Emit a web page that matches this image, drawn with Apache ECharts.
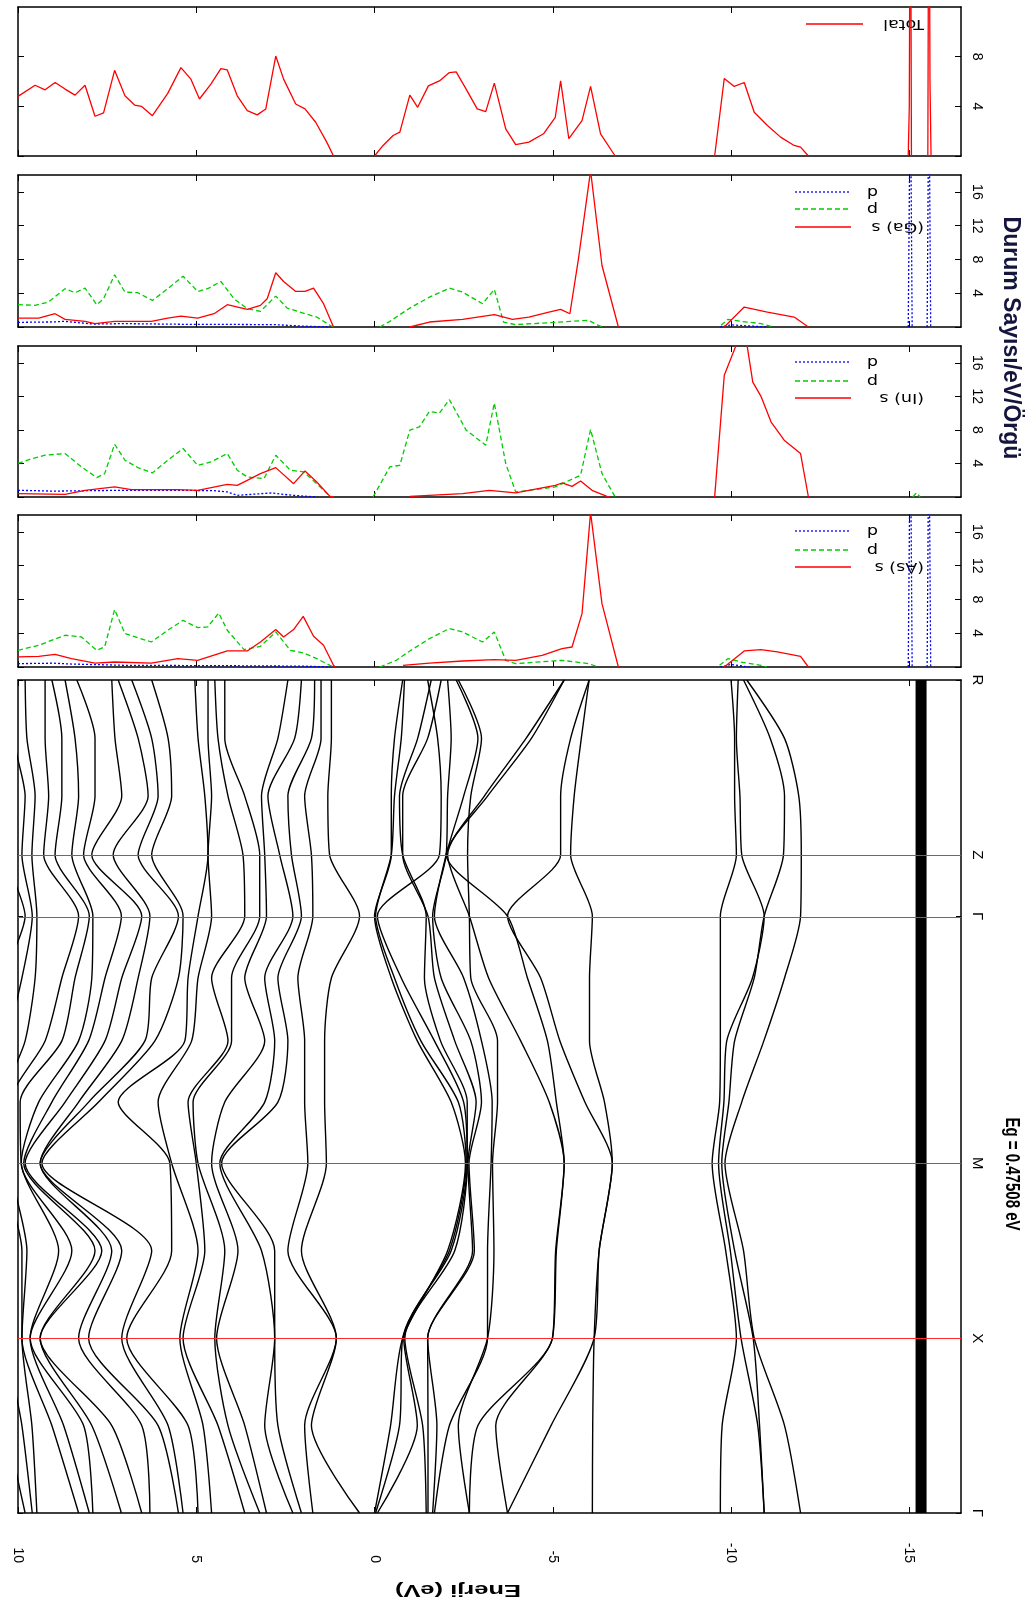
<!DOCTYPE html>
<html>
<head>
<meta charset="utf-8">
<title>Bant yapısı ve durum yoğunluğu</title>
<script src="https://cdn.jsdelivr.net/npm/echarts@6/dist/echarts.min.js"></script>
<style>
html, body { margin: 0; padding: 0; background: #fff; }
#chart { width: 1035px; height: 1609px; }
</style>
</head>
<body>
<div id="chart"></div>
<script>
// k path: Γ - X - M - Γ - Z - R (path length units, Γ-X = 1)
var kSamples = [0, 0.5, 1, 1.5, 2, 2.35, 2.7, 3.06, 3.414, 3.764, 4.1, 4.43, 4.764];
var kTicks = [0, 1, 2, 3.414, 3.764, 4.764];
var kNames = ['Γ', 'X', 'M', 'Γ', 'Z', 'R'];
var energyTicks = [-15, -10, -5, 0, 5, 10];

// conduction bands: energies (eV) read at each k sample, lowest first
var cbRows = [
    [0.42, 1.73, 2.05, 2.29, 3.03, 3.22, 3.64, 4.57, 4.95, 5.37, 5.50, 6.30, 6.53, 7.10, 7.90, 8.00, 8.30, 9.47, 9.60, 9.80],
    [1.77, 1.96, 2.71, 3.08, 3.64, 4.11, 4.39, 4.81, 5.23, 5.79, 6.07, 6.53, 7.37, 7.93, 8.16, 8.72, 9.05, 9.61, 9.89, 10.30],
    [1.07, 1.07, 2.80, 2.80, 4.43, 4.48, 5.37, 5.46, 6.95, 7.09, 8.02, 8.30, 9.38, 9.38, 9.66, 9.66, 9.89, 9.89, 10.30, 10.50],
    [2.05, 2.43, 2.80, 3.17, 3.83, 4.20, 4.76, 4.95, 5.69, 6.25, 7.09, 7.37, 7.65, 7.84, 8.49, 8.86, 9.75, 9.89, 10.20, 10.50],
    [1.35, 1.87, 4.29, 4.34, 4.57, 4.95, 5.00, 5.69, 5.74, 9.33, 9.38, 9.38, 9.80, 9.84, 9.91, 9.91, 10.20, 10.40, 10.60, 10.80],
    [1.40, 1.96, 2.71, 3.08, 4.20, 5.09, 5.23, 6.07, 7.19, 7.74, 8.02, 8.30, 8.68, 9.05, 9.42, 9.94, 10.20, 10.40, 10.60, 10.90],
    [1.40, 1.96, 2.43, 2.80, 3.08, 4.01, 4.11, 5.13, 5.32, 6.16, 6.44, 7.09, 7.56, 8.02, 8.30, 8.77, 9.24, 9.80, 10.30, 10.60],
    [1.21, 2.15, 2.71, 3.08, 3.64, 4.01, 4.57, 4.95, 5.23, 5.50, 6.25, 6.63, 7.09, 7.56, 7.93, 8.40, 8.77, 9.52, 9.89, 10.40],
    [0.42, 1.73, 2.05, 2.29, 3.03, 3.22, 3.64, 4.57, 4.95, 5.37, 5.50, 6.30, 6.53, 7.10, 7.90, 8.00, 8.30, 9.47, 9.60, 9.80],
    [1.26, 1.77, 2.33, 2.66, 3.08, 3.22, 3.69, 4.67, 4.67, 6.25, 6.63, 7.33, 7.93, 8.16, 8.49, 8.96, 9.28, 9.61, 9.89, 10.30],
    [1.31, 1.96, 2.43, 2.99, 3.17, 3.64, 4.11, 4.57, 4.76, 5.69, 6.07, 6.35, 7.09, 7.84, 8.30, 8.77, 9.14, 9.52, 9.80, 10.30],
    [1.21, 1.50, 1.77, 2.24, 2.71, 4.20, 4.39, 4.67, 4.95, 5.79, 6.25, 6.63, 7.28, 7.84, 8.40, 8.77, 9.24, 9.75, 10.10, 10.40],
    [1.21, 1.50, 1.68, 2.05, 2.43, 4.20, 4.48, 4.67, 5.04, 6.25, 6.81, 7.19, 7.37, 8.35, 8.68, 9.05, 9.24, 9.80, 10.10, 10.40]
];

// valence p bands, one array per band (values at kSamples)
var vb1 = [0, -0.45, -0.79, -2.05, -2.55, -2.15, -1.2, -0.47, 0, -0.47, -0.47, -0.56, -0.79];
var vb2 = [-0.03, -0.7, -0.79, -2.1, -2.57, -2.35, -1.3, -0.56, -0.03, -0.47, -0.56, -0.75, -0.84];
var vb3 = [-0.08, -1.2, -0.82, -2.15, -2.6, -2.5, -1.68, -0.75, -0.08, -1.82, -1.87, -1.77, -1.49];
var vb4 = [-1.45, -1.35, -0.85, -2.25, -2.6, -2.6, -1.85, -1.4, -1.45, -0.79, -0.7, -1.21, -1.59];
var vb5 = [-1.5, -1.5, -1.49, -2.75, -2.62, -2.85, -2.25, -1.68, -1.5, -0.79, -0.79, -1.49, -1.87];
var vb6 = [-1.63, -1.75, -1.49, -2.8, -2.65, -3.0, -2.7, -1.87, -1.63, -2.01, -2.05, -2.15, -2.05];
var vb7 = [-1.68, -2.1, -3.17, -3.17, -3.27, -3.3, -3.0, -2.5, -1.68, -2.01, -2.5, -2.9, -2.29];
var vb8 = [-2.66, -2.35, -3.17, -3.35, -3.31, -3.45, -3.45, -2.7, -2.66, -2.61, -2.7, -3.0, -2.35];
var vb9 = [-2.66, -2.9, -4.99, -5.08, -5.32, -4.9, -4.1, -3.2, -2.66, -2.05, -3.08, -4.25, -5.32];
var vb10 = [-3.73, -3.4, -4.99, -5.1, -5.32, -5.1, -4.85, -4.29, -3.73, -2.01, -3.17, -4.4, -5.32];
var vb11 = [-3.73, -4.95, -6.16, -6.3, -6.67, -5.9, -5.2, -4.66, -3.73, -5.22, -5.22, -5.5, -6.02];
var vb12 = [-6.11, -6.12, -6.16, -6.3, -6.67, -6.45, -6.03, -6.03, -6.11, -5.5, -5.6, -5.8, -6.02];

// low lying s bands
var sb1 = [-9.7, -9.75, -10.15, -9.85, -9.47, -9.68, -9.7, -9.7, -9.7, -10.15, -10.1, -10.1, -10.0];
var sb2 = [-10.93, -10.75, -10.28, -9.98, -9.65, -9.8, -9.88, -10.6, -10.93, -10.3, -10.25, -10.15, -10.2];
var sb3 = [-10.93, -10.8, -10.62, -10.1, -9.74, -9.94, -10.1, -10.65, -10.93, -11.47, -11.5, -11.1, -10.35];
var sb4 = [-11.95, -11.5, -10.65, -10.35, -9.83, -10.3, -10.92, -11.5, -11.95, -11.97, -11.9, -11.5, -10.44];

// flat semicore d band
var dBandE = -15.33;

// DOS curves: [energy, states/eV/cell], null = gap
var dosTotal = [[10,4.8],[9.52,5.7],[9.24,5.33],[8.96,5.92],[8.68,5.39],[8.4,4.9],[8.12,5.7],[7.84,3.2],[7.6,3.47],[7.29,6.9],[7.0,4.85],[6.73,4.1],[6.54,4.0],[6.23,3.25],[5.8,5.04],[5.43,7.12],[5.15,6.19],[4.91,4.59],[4.59,5.79],[4.31,7.04],[4.13,6.93],[3.85,4.85],[3.57,3.65],[3.29,3.31],[3.05,3.79],[2.77,8.05],[2.55,6.19],[2.21,4.19],[1.95,3.79],[1.65,2.72],[1.34,1.12],[1.15,0],[0.5,null],[0,0],[-0.24,0.85],[-0.52,1.65],[-0.71,1.92],[-0.99,4.9],[-1.21,3.92],[-1.51,5.65],[-1.82,6.05],[-2.1,6.72],[-2.29,6.77],[-2.57,5.39],[-2.88,3.79],[-3.12,3.57],[-3.36,5.87],[-3.68,2.19],[-3.96,0.91],[-4.33,1.12],[-4.74,1.79],[-5.07,3.12],[-5.22,6.05],[-5.45,1.39],[-5.82,2.85],[-6.06,5.6],[-6.34,1.79],[-6.75,0],[-8,null],[-9.54,0],[-9.81,6.24],[-10.09,5.6],[-10.37,5.92],[-10.65,3.52],[-11.02,2.45],[-11.39,1.52],[-11.77,0.85],[-11.95,0.72],[-12.17,0],[-13,null],[-14.97,0],[-15.0,4],[-15.03,30],[-15.06,0],[-15.3,null],[-15.52,0],[-15.55,30],[-15.58,6],[-15.61,0]];

var dosGaS = [[10,1.06],[9.42,1.06],[8.96,1.57],[8.68,0.9],[8.12,0.67],[7.84,0.4],[7.29,0.67],[6.26,0.67],[5.8,1.06],[5.43,1.3],[4.96,1.06],[4.5,1.57],[4.13,2.64],[3.57,2.09],[3.2,2.56],[3.01,3.35],[2.77,6.42],[2.55,5.39],[2.21,4.21],[1.95,4.21],[1.71,4.6],[1.43,2.76],[1.15,0],[0.5,null],[-0.99,0],[-1.54,0.59],[-2.47,0.9],[-3.36,1.46],[-3.87,0.9],[-4.33,1.18],[-4.89,1.77],[-5.22,2.09],[-5.48,1.57],[-5.72,8.07],[-6.06,18.5],[-6.38,7.28],[-6.84,0],[-8,null],[-9.81,0],[-10.37,2.36],[-11.02,1.77],[-11.77,1.18],[-12.17,0]];
var dosGaP = [[10,2.64],[9.52,2.56],[9.15,2.95],[8.68,4.53],[8.4,4.06],[8.12,4.6],[7.79,2.64],[7.6,3.35],[7.29,6.18],[7.0,4.13],[6.64,4.06],[6.23,3.15],[5.8,4.53],[5.37,6.02],[4.96,4.21],[4.68,4.53],[4.31,5.39],[3.94,3.35],[3.57,2.17],[3.2,1.85],[2.77,3.66],[2.45,2.24],[1.95,1.57],[1.62,1.18],[1.25,0.2],[1.15,0],[0.5,null],[-0.15,0],[-0.43,0.67],[-0.99,2.24],[-1.54,3.54],[-2.1,4.6],[-2.47,4.13],[-3.03,2.76],[-3.36,4.45],[-3.62,0.59],[-3.96,0.28],[-4.89,0.51],[-6.0,0.79],[-6.28,0.2],[-6.4,0],[-8,null],[-9.72,0.2],[-9.91,0.9],[-10.28,0.67],[-10.84,0.4],[-11.2,0]];
var dosGaD = [[10,0.55],[9,0.6],[8.7,0.67],[7.9,0.35],[7,0.4],[5,0.3],[3.8,0.3],[2.8,0.28],[2,0.1],[1.2,0],[0.5,null],[-9.7,0],[-10,0.25],[-10.6,0.1],[-11,0],[-13,null],[-14.97,0],[-15.03,30],[-15.08,0],[-15.3,null],[-15.5,0],[-15.55,30],[-15.6,0]];

var dosInS = [[10,0.4],[8.68,0.32],[8.12,0.8],[7.29,1.2],[6.82,0.88],[5.52,0.88],[4.96,0.8],[4.13,1.51],[3.85,1.39],[3.57,1.99],[3.2,2.79],[2.77,3.5],[2.27,1.59],[1.95,3.11],[1.62,1.79],[1.25,0.08],[1.15,0],[0.5,null],[-0.99,0.08],[-2.47,0.4],[-3.22,0.8],[-3.96,0.48],[-5.07,1.39],[-5.26,1.67],[-5.54,1.27],[-5.78,1.91],[-6.1,0.8],[-6.52,0.08],[-6.6,0],[-8,null],[-9.54,0],[-9.81,14.5],[-10.19,18.6],[-10.43,18.6],[-10.61,13.7],[-10.84,12],[-11.12,8.96],[-11.49,6.77],[-11.95,5.18],[-12.17,0]];
var dosInP = [[10,4.0],[9.61,4.58],[9.24,4.98],[8.68,5.18],[8.22,3.59],[7.79,2.31],[7.57,2.79],[7.29,6.29],[7.0,4.38],[6.64,3.51],[6.23,2.87],[5.8,4.38],[5.37,5.78],[4.96,3.78],[4.59,4.18],[4.13,5.18],[3.85,3.19],[3.57,2.39],[3.1,2.19],[2.77,4.98],[2.36,3.19],[1.99,2.99],[1.62,1.59],[1.25,0.08],[1.15,0],[0.5,null],[0.04,0],[-0.43,3.59],[-0.71,3.78],[-0.99,7.97],[-1.26,8.37],[-1.54,10.2],[-1.82,10.0],[-2.1,11.6],[-2.57,7.97],[-3.12,6.18],[-3.36,11.2],[-3.68,3.98],[-3.96,0.6],[-5.07,1.2],[-5.78,2.59],[-6.06,8.05],[-6.38,2.79],[-6.75,0],[-8,null],[-15.1,0],[-15.2,0.5],[-15.3,0]];
var dosInD = [[10,0.8],[9,0.7],[8.1,0.75],[7,0.8],[5.5,0.8],[4.5,0.75],[4.13,0.6],[3.85,0.2],[2.9,0.48],[2.3,0.2],[1.6,0]];

var dosAsS = [[10,1.19],[9.42,1.26],[8.96,1.5],[8.5,0.99],[7.84,0.47],[7.29,0.59],[6.26,0.47],[5.52,0.99],[4.96,0.79],[4.13,1.9],[3.57,1.9],[3.2,2.96],[2.77,4.43],[2.55,3.56],[2.27,4.43],[2.0,6.0],[1.71,3.64],[1.43,2.57],[1.15,0.2],[1.1,0],[0.5,null],[-0.8,0.2],[-1.54,0.47],[-2.47,0.71],[-3.36,0.87],[-3.96,0.79],[-4.7,1.38],[-5.26,2.17],[-5.54,2.37],[-5.82,6.32],[-6.06,18.3],[-6.38,7.5],[-6.84,0],[-8,null],[-9.81,0],[-10.37,1.9],[-10.84,2.06],[-11.3,1.78],[-11.95,1.26],[-12.17,0]];
var dosAsP = [[10,1.98],[9.42,2.57],[8.68,3.76],[8.22,3.56],[7.79,1.98],[7.57,2.37],[7.29,6.8],[7.0,3.95],[6.26,2.96],[5.8,4.35],[5.37,5.53],[4.96,4.66],[4.68,4.74],[4.37,6.4],[4.13,4.35],[3.66,2.06],[3.2,2.45],[2.77,4.15],[2.36,1.98],[1.99,1.66],[1.62,0.99],[1.25,0.2],[1.15,0],[0.5,null],[-0.15,0],[-0.61,0.79],[-0.99,1.9],[-1.54,3.36],[-2.1,4.55],[-2.47,4.15],[-3.03,2.96],[-3.36,4.15],[-3.68,0.79],[-3.96,0.4],[-5.26,0.79],[-6.0,0.4],[-6.28,0],[-8,null],[-9.68,0.2],[-9.91,0.99],[-10.28,0.59],[-10.84,0.2],[-11.0,0]];
var dosAsD = [[10,0.4],[9,0.45],[8.5,0.35],[7,0.2],[4,0.15],[2,0.1],[1.2,0],[0.5,null],[-9.7,0],[-10,0.3],[-10.5,0],[-13,null],[-14.97,0],[-15.03,30],[-15.08,0],[-15.3,null],[-15.5,0],[-15.55,30],[-15.6,0]];

var myChart = echarts.init(document.getElementById('chart'));

var FONT = '"Liberation Sans", Arial, sans-serif';
var grids = [
    { left: 18, top: 7, width: 943, height: 149 },
    { left: 18, top: 175, width: 943, height: 152 },
    { left: 18, top: 346, width: 943, height: 151 },
    { left: 18, top: 515, width: 943, height: 152 },
    { left: 18, top: 680, width: 943, height: 833 }
];

var xAxes = [];
var yAxes = [];
grids.forEach(function (g, gi) {
    ['bottom', 'top'].forEach(function (pos) {
        xAxes.push({
            type: 'value', gridIndex: gi, position: pos,
            min: -16.45, max: 10, inverse: true,
            axisLine: { show: true, onZero: false, lineStyle: { color: '#000', width: 1.5 } },
            axisTick: { show: true, inside: true, length: 6, customValues: energyTicks, lineStyle: { color: '#000' } },
            axisLabel: {
                show: gi === 4 && pos === 'bottom', customValues: energyTicks,
                rotate: -90, align: 'right', verticalAlign: 'middle', margin: 50,
                fontSize: 14, color: '#000', fontFamily: FONT, showMinLabel: true, showMaxLabel: true
            },
            splitLine: { show: false }
        });
    });
    var isBand = gi === 4;
    var ymax = isBand ? 4.764 : (gi === 0 ? 12 : 18);
    var tickVals = isBand ? kTicks : (gi === 0 ? [0, 4, 8] : [0, 4, 8, 12, 16]);
    var labelVals = isBand ? kTicks : (gi === 0 ? [4, 8] : [4, 8, 12, 16]);
    ['right', 'left'].forEach(function (pos) {
        yAxes.push({
            type: 'value', gridIndex: gi, position: pos, min: 0, max: ymax,
            axisLine: { show: true, onZero: false, lineStyle: { color: '#000', width: 1.5 } },
            axisTick: { show: true, inside: true, length: isBand ? 5 : 6, customValues: tickVals, lineStyle: { color: '#000' } },
            axisLabel: {
                show: pos === 'right', customValues: labelVals,
                rotate: -90, align: 'center', verticalAlign: 'middle', margin: 16,
                fontSize: isBand ? 15 : 14, color: '#000', fontFamily: FONT,
                showMinLabel: true, showMaxLabel: true,
                formatter: function (v) {
                    if (!isBand) return String(v);
                    for (var i = 0; i < kTicks.length; i++) {
                        if (Math.abs(v - kTicks[i]) < 1e-6) return kNames[i];
                    }
                    return '';
                }
            },
            splitLine: { show: false }
        });
    });
});

function bandSeries(values, width) {
    return {
        type: 'line', xAxisIndex: 8, yAxisIndex: 8,
        data: kSamples.map(function (k, j) { return [values[j], k]; }),
        smooth: 0.25, showSymbol: false, symbol: 'none', silent: true, z: 3,
        lineStyle: { color: '#000', width: width || 1.4 }
    };
}

function dosSeries(gi, pts, color, dash) {
    return {
        type: 'line', xAxisIndex: 2 * gi, yAxisIndex: 2 * gi,
        data: pts.map(function (p) { return [p[0], p[1] === null ? '-' : p[1]]; }),
        showSymbol: false, symbol: 'none', silent: true, connectNulls: false, z: 3,
        lineStyle: { color: color, width: 1.3, type: dash || 'solid' }
    };
}

var series = [];
// red high-symmetry lines under the bands
series.push({
    type: 'line', xAxisIndex: 8, yAxisIndex: 8, data: [[-100, 0]], symbol: 'none', silent: true, z: 1,
    markLine: {
        silent: true, symbol: ['none', 'none'], animation: false, label: { show: false },
        lineStyle: { color: '#ff2a2a', width: 1.2, type: 'solid' },
        data: kTicks.slice(1, 5).map(function (v) { return { yAxis: v }; })
    }
});
for (var i = 0; i < cbRows[0].length; i++) {
    series.push(bandSeries(cbRows.map(function (r) { return r[i]; })));
}
[vb1, vb2, vb3, vb4, vb5, vb6, vb7, vb8, vb9, vb10, vb11, vb12].forEach(function (b) { series.push(bandSeries(b)); });
[sb1, sb2, sb3, sb4].forEach(function (b) { series.push(bandSeries(b)); });
series.push(bandSeries(kSamples.map(function () { return dBandE; }), 11));

var RED = '#ff0000', GREEN = '#00cc00', BLUE = '#0000ff';
var DASH = [5, 3], DOT = [2, 2];
series.push(dosSeries(0, dosTotal, RED));
series.push(dosSeries(1, dosGaD, BLUE, DOT), dosSeries(1, dosGaP, GREEN, DASH), dosSeries(1, dosGaS, RED));
series.push(dosSeries(2, dosInD, BLUE, DOT), dosSeries(2, dosInP, GREEN, DASH), dosSeries(2, dosInS, RED));
series.push(dosSeries(3, dosAsD, BLUE, DOT), dosSeries(3, dosAsP, GREEN, DASH), dosSeries(3, dosAsS, RED));

// legends (text upside down as in the figure)
var graphics = [];
function legendItem(y, color, dash, label) {
    graphics.push({
        type: 'line', shape: { x1: 795, y1: y, x2: 851, y2: y }, silent: true,
        style: { stroke: color, lineWidth: 1.3, lineDash: dash || null }
    });
    graphics.push({
        type: 'text', x: label.length > 1 ? 924 : 878, y: y, rotation: Math.PI, scaleX: 1.25, silent: true,
        style: { text: label, font: '14px "DejaVu Sans", sans-serif', fill: '#000', textAlign: 'left', textVerticalAlign: 'middle', verticalAlign: 'middle' }
    });
}
legendItem(24, RED, null, 'Total');
graphics[0].shape.x1 = 806; graphics[0].shape.x2 = 863;
legendItem(192, BLUE, DOT, 'd'); legendItem(209, GREEN, DASH, 'p'); legendItem(227, RED, null, '(Ga) s');
legendItem(362, BLUE, DOT, 'd'); legendItem(381, GREEN, DASH, 'p'); legendItem(398, RED, null, '(In) s');
legendItem(531, BLUE, DOT, 'd'); legendItem(550, GREEN, DASH, 'p'); legendItem(567, RED, null, '(As) s');

graphics.push({
    type: 'text', x: 458, y: 1590, rotation: Math.PI, scaleX: 1.5, silent: true,
    style: { text: 'Enerji (eV)', font: 'bold 17px ' + FONT, fill: '#000', textAlign: 'center', textVerticalAlign: 'middle', verticalAlign: 'middle' }
});
graphics.push({
    type: 'text', x: 1012, y: 1174, rotation: -Math.PI / 2, scaleY: 1.4, silent: true,
    style: { text: 'Eg = 0.47508 eV', font: 'bold 15px ' + FONT, fill: '#000', textAlign: 'center', textVerticalAlign: 'middle', verticalAlign: 'middle' }
});
graphics.push({
    type: 'text', x: 1010, y: 338, rotation: -Math.PI / 2, silent: true,
    style: { text: 'Durum Sayısı/eV/Örgü', font: 'bold 23px ' + FONT, fill: '#14143c', textAlign: 'center', textVerticalAlign: 'middle', verticalAlign: 'middle' }
});

var option = {
    animation: false,
    backgroundColor: '#fff',
    grid: grids,
    xAxis: xAxes,
    yAxis: yAxes,
    series: series,
    graphic: { elements: graphics }
};
myChart.setOption(option);
</script>
</body>
</html>
